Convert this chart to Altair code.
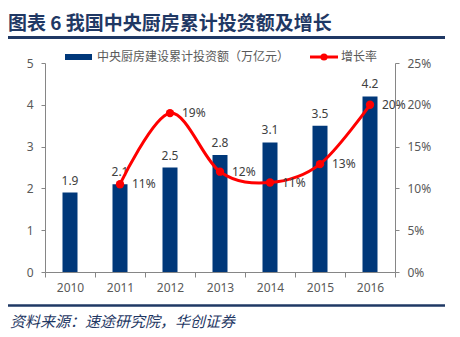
import altair as alt
import pandas as pd

years = ["2010", "2011", "2012", "2013", "2014", "2015", "2016"]
invest = [1.9, 2.1, 2.5, 2.8, 3.1, 3.5, 4.2]
growth_years = ["2011", "2012", "2013", "2014", "2015", "2016"]
growth = [0.105, 0.19, 0.12, 0.107, 0.129, 0.20]
growth_labels = ["11%", "19%", "12%", "11%", "13%", "20%"]

title_text = "图表 6 我国中央厨房累计投资额及增长"
legend_bar = "中央厨房建设累计投资额（万亿元）"
legend_line = "增长率"
source_text = "资料来源：速途研究院，华创证券"

BLUE = "#00387A"
RED = "#FF0000"
DARK = "#1F3864"
GRAY = "#595959"
AXIS = "#868686"
FONT = "Noto Sans CJK SC"

bar_df = pd.DataFrame({"year": years, "invest": invest, "lab": [f"{v:.1f}" for v in invest]})
line_df = pd.DataFrame({"year": growth_years, "growth": growth, "lab": growth_labels})
one = pd.DataFrame({"a": [0]})

xenc = alt.X("year:N", sort=years, title=None,
             scale=alt.Scale(paddingInner=0, paddingOuter=0),
             axis=alt.Axis(labelAngle=0, tickBand="extent", tickSize=5, labelPadding=5,
                           domainColor=AXIS, tickColor=AXIS, labelColor=GRAY,
                           labelFontSize=12, labelFont="Noto Sans"))

yl = alt.Y("invest:Q", title=None,
           scale=alt.Scale(domain=[0, 5], nice=False),
           axis=alt.Axis(values=[0, 1, 2, 3, 4, 5], grid=False, tickSize=4, labelPadding=8,
                         domainColor=AXIS, tickColor=AXIS, labelColor=GRAY,
                         labelFontSize=12, labelFont="Noto Sans"))
yr = alt.Y("growth:Q", title=None,
           scale=alt.Scale(domain=[0, 0.25], nice=False),
           axis=alt.Axis(orient="right", format=".0%", values=[0, 0.05, 0.1, 0.15, 0.2, 0.25],
                         grid=False, tickSize=4, labelPadding=8,
                         domainColor=AXIS, tickColor=AXIS, labelColor=GRAY,
                         labelFontSize=12, labelFont="Noto Sans"))

bars = alt.Chart(bar_df).mark_bar(size=15, color=BLUE).encode(x=xenc, y=yl)
bar_text = alt.Chart(bar_df).mark_text(baseline="bottom", dy=-5, fontSize=12,
                                       color="#404040", font="Noto Sans").encode(
    x=alt.X("year:N", sort=years), y="invest:Q", text="lab:N")
left = alt.layer(bars, bar_text)

line = alt.Chart(line_df).mark_line(color=RED, strokeWidth=3, interpolate="cardinal").encode(
    x=alt.X("year:N", sort=years), y=yr)
pts = alt.Chart(line_df).mark_circle(color=RED, size=70, opacity=1).encode(
    x=alt.X("year:N", sort=years), y="growth:Q")
line_text = alt.Chart(line_df).mark_text(align="left", baseline="middle", dx=12, fontSize=12,
                                         color="#404040", font="Noto Sans").encode(
    x=alt.X("year:N", sort=years), y="growth:Q", text="lab:N")
right = alt.layer(line, pts, line_text)

main = alt.layer(left, right).resolve_scale(y="independent")

deco = [
    alt.Chart(one).mark_text(align="left", baseline="middle", fontSize=19, fontWeight="bold",
                             color=DARK, font=FONT).encode(
        x=alt.value(-37), y=alt.value(-39.5), text=alt.value(title_text)),
    alt.Chart(one).mark_rule(color=DARK, strokeWidth=2.8).encode(
        x=alt.value(-37), x2=alt.value(400), y=alt.value(-25.5)),
    alt.Chart(one).mark_rule(color=DARK, strokeWidth=2.5).encode(
        x=alt.value(-37), x2=alt.value(400), y=alt.value(242.5)),
    alt.Chart(one).mark_text(align="left", baseline="middle", fontSize=15, fontStyle="italic",
                             color=DARK, font=FONT).encode(
        x=alt.value(-35), y=alt.value(259), text=alt.value(source_text)),
    alt.Chart(one).mark_rule(color=BLUE, strokeWidth=6).encode(
        x=alt.value(20), x2=alt.value(47), y=alt.value(-6)),
    alt.Chart(one).mark_text(align="left", baseline="middle", fontSize=12,
                             color=GRAY, font=FONT).encode(
        x=alt.value(52), y=alt.value(-6), text=alt.value(legend_bar)),
    alt.Chart(one).mark_rule(color=RED, strokeWidth=3).encode(
        x=alt.value(265), x2=alt.value(293), y=alt.value(-6)),
    alt.Chart(one).mark_circle(color=RED, size=50, opacity=1).encode(
        x=alt.value(279), y=alt.value(-6)),
    alt.Chart(one).mark_text(align="left", baseline="middle", fontSize=12,
                             color=GRAY, font=FONT).encode(
        x=alt.value(296), y=alt.value(-6), text=alt.value(legend_line)),
]

chart = alt.layer(main, *deco).properties(
    width=350, height=209,
    autosize=alt.AutoSizeParams(type="none"),
    padding={"left": 45, "top": 63, "right": 65, "bottom": 65},
    background="white",
).configure_view(stroke=None)

chart.save("out.html", embed_options={"renderer": "svg", "actions": False})
